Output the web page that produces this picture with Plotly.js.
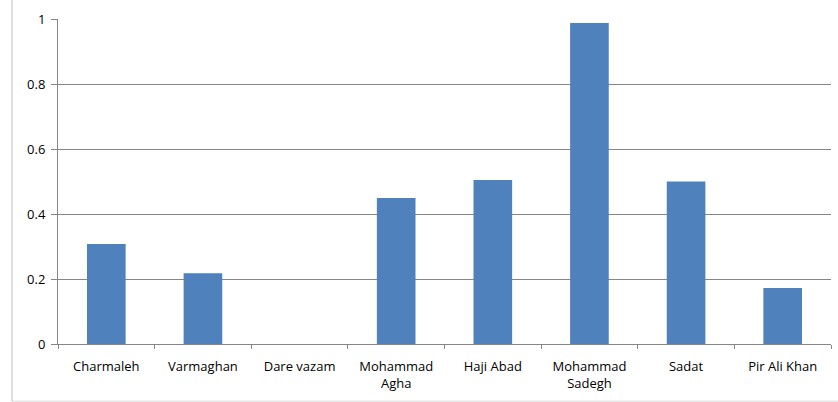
<!DOCTYPE html>
<html>
<head>
<meta charset="utf-8">
<script src="https://cdn.plot.ly/plotly-3.0.1.min.js"></script>
<style>html,body{margin:0;padding:0;background:#fff;}#chart{width:838px;height:402px;}</style>
</head>
<body>
<div id="chart"></div>
<script>
const categories = ["Charmaleh", "Varmaghan", "Dare vazam", "Mohammad Agha", "Haji Abad", "Mohammad Sadegh", "Sadat", "Pir Ali Khan"];
const tickLabels = ["Charmaleh", "Varmaghan", "Dare vazam", "Mohammad<br>Agha", "Haji Abad", "Mohammad<br>Sadegh", "Sadat", "Pir Ali Khan"];
const values = [0.308, 0.218, 0, 0.449, 0.505, 0.988, 0.50, 0.172];
const yTicks = [0, 0.2, 0.4, 0.6, 0.8, 1];
const yTickText = ["0", "0.2", "0.4", "0.6", "0.8", "1"];

const trace = {
  type: "bar",
  x: categories,
  y: values,
  marker: {color: "#4F81BD", line: {width: 0}},
  hoverinfo: "x+y"
};

const layout = {
  width: 838, height: 402,
  margin: {l: 58, r: 7, t: 19, b: 58},
  paper_bgcolor: "#fff", plot_bgcolor: "#fff",
  bargap: 0.6,
  showlegend: false,
  font: {family: "Open Sans, DejaVu Sans, sans-serif", size: 13, color: "#000"},
  xaxis: {
    type: "category",
    tickvals: categories,
    ticktext: tickLabels,
    showline: true, linecolor: "#868686", linewidth: 1,
    ticks: "outside", ticklen: 4, tickcolor: "#868686",
    tickson: "boundaries",
    showgrid: false,
    tickangle: 0,
    tickfont: {size: 13},
    ticklabelstandoff: 10
  },
  yaxis: {
    range: [0, 1],
    tickvals: yTicks, ticktext: yTickText,
    showline: true, linecolor: "#868686", linewidth: 1,
    ticks: "outside", ticklen: 6, tickcolor: "#868686",
    showgrid: true, gridcolor: "#868686", gridwidth: 1,
    zeroline: false,
    tickfont: {size: 13},
    ticklabelstandoff: 3
  },
  shapes: [
    {type: "line", xref: "paper", yref: "paper", x0: -0.0595, x1: -0.0595, y0: -0.176, y1: 1.06, line: {color: "#BDBDBD", width: 1}},
    {type: "line", xref: "paper", yref: "paper", x0: -0.0595, x1: 1.01, y0: -0.176, y1: -0.176, line: {color: "#D9D9D9", width: 1}}
  ]
};

Plotly.newPlot("chart", [trace], layout, {displayModeBar: false, staticPlot: true});
</script>
</body>
</html>
